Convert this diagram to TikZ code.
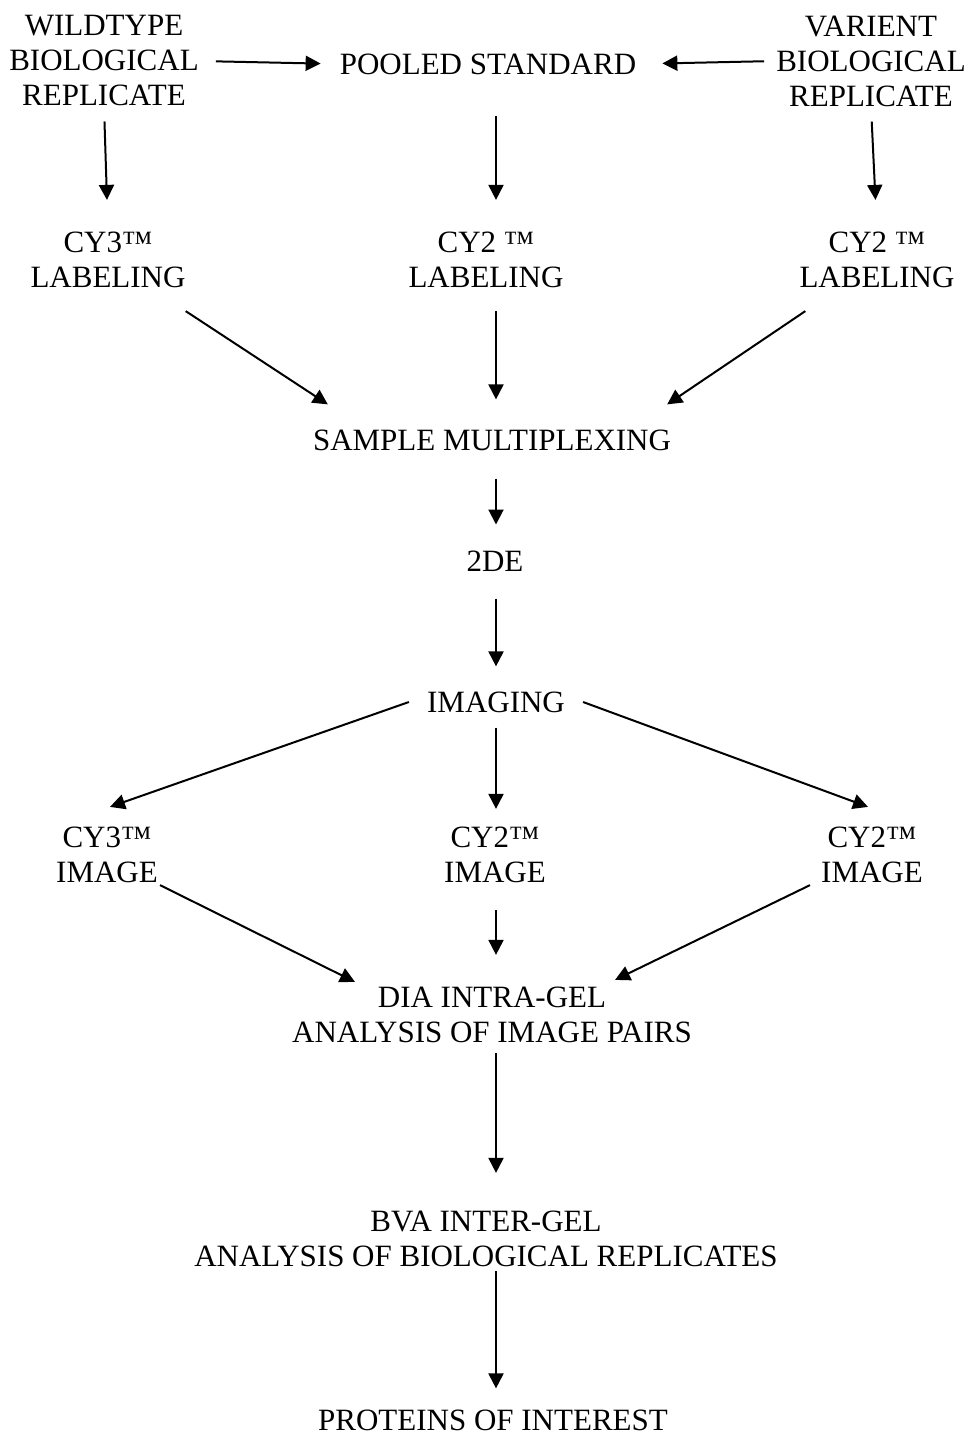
\documentclass[tikz,border=0pt]{standalone}
\usepackage{fontspec}
\setmainfont{Liberation Serif}
\usetikzlibrary{arrows.meta}
\begin{document}
\begin{tikzpicture}[x=1pt,y=-1pt,
    stage/.style={align=center,inner sep=0pt,font=\fontsize{31}{35}\selectfont},
    flow/.style={-{Triangle[length=15pt,width=15pt]},line width=2pt}]
    \useasboundingbox (0,0) rectangle (972,1437);
    \coordinate (axis) at (496,0);

    \node[stage] (wild) at (104,61) {WILDTYPE\\BIOLOGICAL\\REPLICATE};
    \node[stage] (pooled) at (488,64) {POOLED STANDARD};
    \node[stage] (varient) at (871,61) {VARIENT\\BIOLOGICAL\\REPLICATE};

    \node[stage] (cy3lab) at (108,260) {CY3™\\LABELING};
    \node[stage] (cy2lab) at (486,260) {CY2 ™\\LABELING};
    \node[stage] (cy2labr) at (877,260) {CY2 ™\\LABELING};

    \node[stage] (mux) at (492,440) {SAMPLE MULTIPLEXING};
    \node[stage] (twode) at (495,561) {2DE};
    \node[stage] (imaging) at (496,702) {IMAGING};

    \node[stage] (cy3img) at (107,855) {CY3™\\IMAGE};
    \node[stage] (cy2img) at (495,855) {CY2™\\IMAGE};
    \node[stage] (cy2imgr) at (872,855) {CY2™\\IMAGE};

    \node[stage] (dia) at (492,1015) {DIA INTRA-GEL\\ANALYSIS OF IMAGE PAIRS};
    \node[stage] (bva) at (486,1239) {BVA INTER-GEL\\ANALYSIS OF BIOLOGICAL REPLICATES};
    \node[stage] (prot) at (493,1420) {PROTEINS OF INTEREST};

    \draw[flow,shorten <=17pt,shorten >=19pt] (wild.east) -- (pooled.west);
    \draw[flow,shorten <=12pt,shorten >=26pt] (varient.west) -- (pooled.east);

    \draw[flow,shorten <=15pt,shorten >=32pt] (wild.south) -- (cy3lab.north);
    \draw[flow,shorten <=41pt,shorten >=32pt] (pooled.south -| axis) -- (cy2lab.north -| axis);
    \draw[flow,shorten <=15pt,shorten >=32pt] (varient.south) -- (cy2labr.north);

    \draw[flow] ([yshift=-23pt]cy3lab.south east) -- ([xshift=15pt,yshift=25pt]mux.north west);
    \draw[flow,shorten <=23pt,shorten >=30pt] (cy2lab.south -| axis) -- (mux.north -| axis);
    \draw[flow] ([xshift=6pt,yshift=-23pt]cy2labr.south west) -- ([xshift=-4pt,yshift=25pt]mux.north east);

    \draw[flow,shorten <=28pt,shorten >=26pt] (mux.south -| axis) -- (twode.north -| axis);
    \draw[flow,shorten <=27pt,shorten >=25pt] (twode.south -| axis) -- (imaging.north -| axis);

    \draw[flow] ([xshift=-18pt]imaging.west) -- ([xshift=3pt,yshift=20pt]cy3img.north);
    \draw[flow,shorten <=15pt,shorten >=18pt] (imaging.south -| axis) -- (cy2img.north -| axis);
    \draw[flow] ([xshift=18pt]imaging.east) -- ([xshift=-4pt,yshift=20pt]cy2imgr.north);

    \draw[flow] ([xshift=2pt,yshift=-2pt]cy3img.south east) -- ([xshift=63pt,yshift=5pt]dia.north west);
    \draw[flow,shorten <=27pt,shorten >=32pt] (cy2img.south -| axis) -- (dia.north -| axis);
    \draw[flow] ([xshift=-11pt,yshift=-2pt]cy2imgr.south west) -- ([xshift=-77pt,yshift=7pt]dia.north east);

    \draw[flow,shorten <=10pt,shorten >=38pt] (dia.south -| axis) -- (bva.north -| axis);
    \draw[flow,shorten <=4pt,shorten >=21pt] (bva.south -| axis) -- (prot.north -| axis);
\end{tikzpicture}
\end{document}
